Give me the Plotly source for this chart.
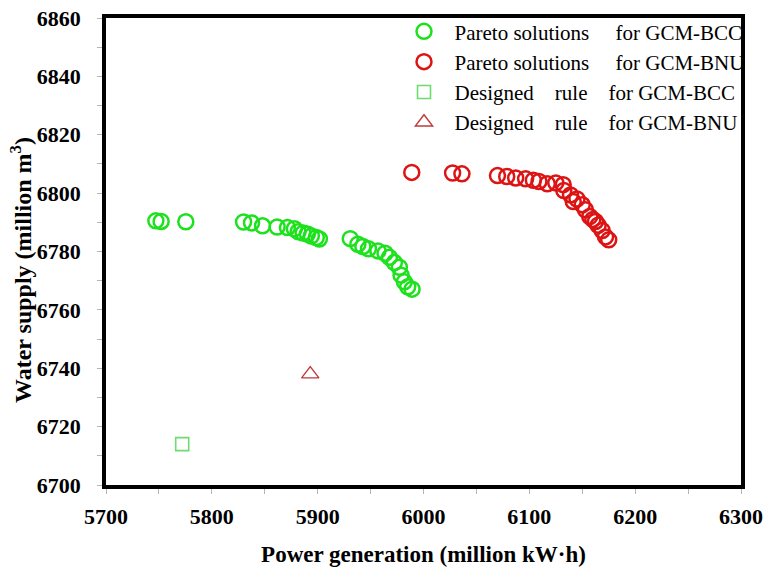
import plotly.graph_objects as go

# Pareto fronts (power generation, water supply)
bcc_power = [5747.1, 5752.1, 5775.4, 5830.0, 5837.5, 5847.9, 5861.7, 5871.4, 5878.0, 5881.5,
             5886.2, 5890.3, 5894.0, 5898.7, 5901.6, 5930.8, 5938.0, 5942.7, 5948.0, 5956.9,
             5963.7, 5967.8, 5972.5, 5977.2, 5978.8, 5981.9, 5985.1, 5989.2]
bcc_water = [6790.5, 6790.3, 6790.2, 6790.1, 6789.8, 6788.8, 6788.4, 6788.2, 6787.8, 6786.8,
             6786.3, 6786.0, 6785.3, 6784.8, 6784.3, 6784.4, 6782.5, 6781.7, 6780.9, 6780.2,
             6779.4, 6778.0, 6776.2, 6774.6, 6771.9, 6769.6, 6767.9, 6767.1]

bnu_power = [5988.9, 6027.5, 6036.3, 6069.9, 6078.6, 6087.1, 6096.5, 6103.8, 6109.1, 6117.0,
             6125.0, 6132.0, 6132.6, 6138.9, 6141.5, 6145.0, 6150.0, 6153.0, 6157.1, 6160.0,
             6162.5, 6165.0, 6168.8, 6172.0, 6175.0]
bnu_water = [6807.1, 6806.9, 6806.6, 6806.0, 6805.7, 6805.2, 6804.9, 6804.4, 6804.0, 6803.2,
             6803.5, 6802.9, 6800.9, 6799.4, 6797.1, 6798.0, 6796.0, 6794.3, 6792.0, 6791.0,
             6790.3, 6789.0, 6787.2, 6785.0, 6784.0]

# Designed operating rules
rule_bcc_power = [5772]
rule_bcc_water = [6714]
rule_bnu_power = [5893]
rule_bnu_water = [6738]

NB = "\u00a0"
legend_names = [
    NB * 2 + "Pareto solutions" + NB * 5 + "for GCM-BCC",
    NB * 2 + "Pareto solutions" + NB * 5 + "for GCM-BNU",
    NB * 2 + "Designed" + NB * 4 + "rule" + NB * 4 + "for GCM-BCC",
    NB * 2 + "Designed" + NB * 4 + "rule" + NB * 4 + "for GCM-BNU",
]

serif = "Liberation Serif"

fig = go.Figure()
fig.add_trace(go.Scatter(
    x=bcc_power, y=bcc_water, mode="markers", name=legend_names[0],
    marker=dict(symbol="circle-open", size=15, color="rgb(30,225,30)",
                line=dict(width=2.5, color="rgb(30,225,30)")),
))
fig.add_trace(go.Scatter(
    x=bnu_power, y=bnu_water, mode="markers", name=legend_names[1],
    marker=dict(symbol="circle-open", size=15, color="rgb(220,20,20)",
                line=dict(width=2.5, color="rgb(220,20,20)")),
))
fig.add_trace(go.Scatter(
    x=rule_bcc_power, y=rule_bcc_water, mode="markers", name=legend_names[2],
    marker=dict(symbol="square-open", size=13, color="rgb(110,220,110)",
                line=dict(width=1.6, color="rgb(110,220,110)")),
))
fig.add_trace(go.Scatter(
    x=rule_bnu_power, y=rule_bnu_water, mode="markers", name=legend_names[3],
    marker=dict(symbol="triangle-up-open", size=15, color="rgb(190,60,60)",
                line=dict(width=1.4, color="rgb(190,60,60)")),
))

axis_common = dict(
    automargin=False,
    showgrid=False, zeroline=False,
    showline=True, linewidth=3.5, linecolor="black", mirror=True,
    ticks="outside", ticklen=5, tickwidth=1, tickcolor="rgb(180,180,180)",
    tickfont=dict(family=serif, size=22, color="black", weight="bold"),
)

fig.update_layout(
    width=764, height=567,
    margin=dict(l=106, r=23, t=18, b=82, autoexpand=False),
    paper_bgcolor="white", plot_bgcolor="white",
    font=dict(family=serif),
    showlegend=True,
    legend=dict(
        x=(404 - 106) / 635, y=1.0146, xanchor="left", yanchor="top",
        bgcolor="rgba(0,0,0,0)", borderwidth=0,
        font=dict(family=serif, size=21, color="black"),
        tracegroupgap=0, itemsizing="trace",
    ),
    xaxis=dict(
        range=[5700, 6300], tickmode="linear", tick0=5700, dtick=100,
        minor=dict(ticks="outside", ticklen=5, tickcolor="rgb(180,180,180)", dtick=50),
        ticklabelstandoff=4,
        title=dict(text="Power generation (million kW·h)", standoff=20,
                   font=dict(family=serif, size=23, color="black", weight="bold")),
        **axis_common,
    ),
    yaxis=dict(
        range=[6700, 6860], tickmode="linear", tick0=6700, dtick=20,
        minor=dict(ticks="outside", ticklen=5, tickcolor="rgb(180,180,180)", dtick=10),
        ticklabelstandoff=12,
        **axis_common,
    ),
    annotations=[dict(
        text="Water supply (million m<sup>3</sup>)",
        xref="paper", yref="paper",
        x=(21 - 106) / 635, y=(485 - 270) / 467,
        xanchor="center", yanchor="middle", textangle=-90, showarrow=False,
        font=dict(family=serif, size=24, color="black", weight="bold"),
    )],
)

fig.write_html("out.html")
